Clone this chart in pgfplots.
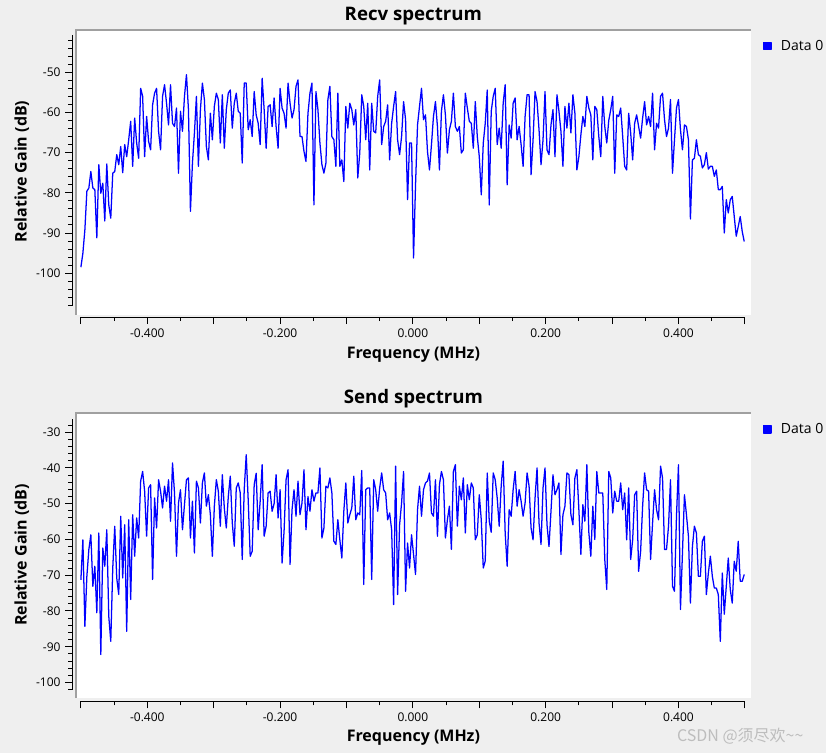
\documentclass[border=0pt]{standalone}
\usepackage{fontspec}
\setmainfont{Open Sans}
\newfontfamily\cjk{Noto Sans CJK SC}
\usepackage{pgfplots}
\usepackage{pgfplotstable}
\pgfplotsset{compat=1.18}
\definecolor{bg}{HTML}{EFEFEF}
\definecolor{framegray}{HTML}{A0A0A0}
\definecolor{qblue}{HTML}{0000FF}
\definecolor{wm}{HTML}{BDBDBD}

\pgfplotstableread{
f r s
-0.500 -98.5 -71.3
-0.497 -95.0 -60.1
-0.494 -89.2 -84.3
-0.491 -79.6 -70.3
-0.488 -78.8 -62.8
-0.485 -74.7 -58.7
-0.482 -78.8 -73.1
-0.479 -79.2 -67.5
-0.476 -91.2 -80.5
-0.473 -73.0 -58.2
-0.470 -80.1 -92.2
-0.467 -77.6 -62.4
-0.464 -87.0 -67.5
-0.461 -72.8 -57.3
-0.458 -83.0 -81.5
-0.455 -86.3 -88.5
-0.452 -75.1 -68.0
-0.449 -74.7 -56.3
-0.446 -70.5 -70.8
-0.443 -73.0 -75.4
-0.440 -68.5 -53.5
-0.437 -75.0 -70.8
-0.434 -68.0 -55.9
-0.431 -71.0 -85.7
-0.428 -66.8 -54.5
-0.425 -62.2 -76.8
-0.422 -73.4 -53.1
-0.419 -61.4 -64.7
-0.416 -67.6 -54.0
-0.413 -71.4 -59.6
-0.410 -54.0 -43.7
-0.407 -56.0 -41.0
-0.404 -71.0 -46.5
-0.401 -61.0 -59.1
-0.398 -67.2 -45.6
-0.395 -69.3 -44.7
-0.392 -58.1 -71.2
-0.389 -55.2 -48.4
-0.386 -54.0 -56.8
-0.383 -64.7 -43.3
-0.380 -69.3 -46.5
-0.377 -56.0 -51.2
-0.374 -53.1 -45.1
-0.371 -57.7 -49.3
-0.368 -63.1 -43.3
-0.365 -53.1 -54.9
-0.362 -62.7 -38.6
-0.359 -63.5 -47.0
-0.356 -58.9 -64.7
-0.353 -75.1 -49.8
-0.350 -59.7 -46.1
-0.347 -64.7 -57.3
-0.344 -56.0 -50.3
-0.341 -50.6 -43.3
-0.338 -59.3 -42.8
-0.335 -84.6 -59.6
-0.332 -72.6 -49.3
-0.329 -65.1 -63.8
-0.326 -56.0 -43.7
-0.323 -73.4 -45.6
-0.320 -59.3 -55.4
-0.317 -52.7 -44.2
-0.314 -56.8 -41.4
-0.311 -68.5 -50.7
-0.308 -71.8 -47.5
-0.305 -60.2 -53.1
-0.302 -66.8 -64.7
-0.299 -58.5 -50.7
-0.296 -55.2 -43.3
-0.293 -56.8 -46.5
-0.290 -67.6 -56.3
-0.287 -55.6 -41.9
-0.284 -68.9 -51.2
-0.281 -59.3 -56.8
-0.278 -55.2 -48.0
-0.275 -54.4 -42.3
-0.272 -63.9 -55.4
-0.269 -57.7 -61.9
-0.266 -55.2 -45.6
-0.263 -59.7 -44.2
-0.260 -60.2 -47.0
-0.257 -72.6 -65.6
-0.254 -52.7 -46.0
-0.251 -52.7 -36.3
-0.248 -64.3 -49.0
-0.245 -61.8 -64.7
-0.242 -66.0 -63.3
-0.239 -54.8 -44.7
-0.236 -60.6 -41.5
-0.233 -62.7 -57.3
-0.230 -68.0 -49.3
-0.227 -51.5 -39.1
-0.224 -59.3 -59.1
-0.221 -68.9 -56.3
-0.218 -58.5 -47.0
-0.215 -58.1 -46.5
-0.212 -63.5 -52.1
-0.209 -56.4 -50.0
-0.206 -63.5 -41.9
-0.203 -68.9 -54.0
-0.200 -54.0 -46.1
-0.197 -58.9 -66.6
-0.194 -60.2 -57.7
-0.191 -63.9 -43.3
-0.188 -52.7 -40.5
-0.185 -57.7 -67.0
-0.182 -61.4 -51.7
-0.179 -59.3 -46.1
-0.176 -53.5 -53.5
-0.173 -51.9 -43.7
-0.170 -66.0 -53.1
-0.167 -66.0 -49.8
-0.164 -69.7 -40.5
-0.161 -72.2 -57.3
-0.158 -60.2 -48.0
-0.155 -55.2 -52.1
-0.152 -52.7 -46.1
-0.149 -83.0 -49.3
-0.146 -54.8 -47.0
-0.143 -59.3 -47.0
-0.140 -67.6 -40.0
-0.137 -73.0 -59.6
-0.134 -75.1 -56.8
-0.131 -72.6 -45.1
-0.128 -56.8 -45.6
-0.125 -53.5 -42.8
-0.122 -66.0 -47.0
-0.119 -66.8 -60.5
-0.116 -73.4 -61.4
-0.113 -55.2 -54.5
-0.110 -73.4 -60.1
-0.107 -71.8 -65.2
-0.104 -77.2 -52.1
-0.101 -58.5 -44.2
-0.098 -63.9 -55.4
-0.095 -57.7 -53.1
-0.092 -59.3 -51.2
-0.089 -63.1 -42.3
-0.086 -59.3 -54.5
-0.083 -76.3 -52.6
-0.080 -70.1 -53.1
-0.077 -55.6 -40.7
-0.074 -58.5 -72.6
-0.071 -66.8 -46.1
-0.068 -57.7 -45.6
-0.065 -74.3 -45.6
-0.062 -57.7 -71.2
-0.059 -64.7 -43.3
-0.056 -65.1 -46.1
-0.053 -56.0 -52.1
-0.050 -51.9 -45.6
-0.047 -68.0 -41.4
-0.044 -63.5 -46.1
-0.041 -62.2 -47.0
-0.038 -58.1 -54.5
-0.035 -71.8 -52.6
-0.032 -62.7 -57.3
-0.029 -58.5 -78.2
-0.026 -54.8 -39.5
-0.023 -66.8 -75.4
-0.020 -70.5 -55.9
-0.017 -66.0 -49.8
-0.014 -57.3 -41.0
-0.011 -61.8 -74.5
-0.008 -81.7 -61.0
-0.005 -67.6 -68.0
-0.002 -67.6 -58.7
0.001 -96.2 -64.2
0.004 -78.0 -69.8
0.007 -63.1 -51.7
0.010 -58.5 -45.1
0.013 -54.0 -53.5
0.016 -61.8 -46.1
0.019 -60.6 -44.2
0.022 -69.7 -43.7
0.025 -74.3 -41.4
0.028 -68.0 -52.6
0.031 -61.0 -53.5
0.034 -57.3 -43.3
0.037 -63.5 -59.1
0.040 -74.3 -44.7
0.043 -59.7 -41.0
0.046 -55.6 -43.3
0.049 -60.6 -59.6
0.052 -70.1 -54.5
0.055 -64.3 -50.7
0.058 -62.2 -62.8
0.061 -55.2 -41.0
0.064 -63.5 -39.1
0.067 -64.7 -56.3
0.070 -63.5 -45.1
0.073 -70.1 -48.9
0.076 -69.3 -42.8
0.079 -55.2 -58.2
0.082 -58.9 -44.7
0.085 -62.2 -48.9
0.088 -62.7 -44.2
0.091 -68.9 -45.6
0.094 -57.3 -60.1
0.097 -66.0 -58.7
0.100 -71.0 -47.5
0.103 -80.5 -54.5
0.106 -67.6 -68.0
0.109 -62.7 -66.0
0.112 -54.4 -41.4
0.115 -83.0 -54.9
0.118 -59.7 -58.0
0.121 -56.0 -41.4
0.124 -54.0 -43.3
0.127 -68.0 -48.4
0.130 -63.9 -56.3
0.133 -68.9 -45.1
0.136 -57.7 -38.1
0.139 -53.1 -58.2
0.142 -78.0 -67.5
0.145 -63.1 -51.7
0.148 -66.4 -53.5
0.151 -57.7 -46.1
0.154 -56.4 -41.0
0.157 -66.8 -50.7
0.160 -63.5 -46.1
0.163 -68.0 -49.3
0.166 -73.4 -53.5
0.169 -61.0 -49.8
0.172 -55.6 -41.4
0.175 -55.6 -45.1
0.178 -75.5 -56.8
0.181 -66.8 -60.1
0.184 -54.8 -48.4
0.187 -57.3 -40.0
0.190 -64.3 -55.4
0.193 -73.0 -61.4
0.196 -66.8 -45.6
0.199 -54.8 -40.0
0.202 -69.3 -55.9
0.205 -70.5 -62.0
0.208 -63.1 -52.1
0.211 -59.3 -41.9
0.214 -71.0 -47.5
0.217 -55.6 -46.1
0.220 -59.7 -44.2
0.223 -64.7 -64.2
0.226 -73.4 -53.1
0.229 -58.5 -50.7
0.232 -63.9 -41.4
0.235 -57.7 -41.9
0.238 -65.1 -53.1
0.241 -55.6 -55.9
0.244 -60.2 -42.8
0.247 -74.3 -40.5
0.250 -71.0 -51.7
0.253 -65.6 -64.2
0.256 -61.0 -50.3
0.259 -63.5 -54.9
0.262 -56.0 -39.1
0.265 -58.9 -58.0
0.268 -60.6 -64.7
0.271 -71.8 -50.7
0.274 -58.5 -60.0
0.277 -59.3 -41.0
0.280 -66.0 -47.0
0.283 -71.0 -47.0
0.286 -56.0 -47.0
0.289 -63.5 -65.6
0.292 -67.6 -74.0
0.295 -62.0 -41.0
0.298 -59.3 -42.8
0.301 -56.0 -52.6
0.304 -75.1 -46.5
0.307 -60.6 -49.3
0.310 -61.0 -49.3
0.313 -58.9 -44.2
0.316 -66.0 -51.7
0.319 -73.4 -47.0
0.322 -74.3 -60.1
0.325 -60.2 -45.6
0.328 -65.1 -65.6
0.331 -71.8 -60.1
0.334 -62.7 -47.5
0.337 -60.6 -46.5
0.340 -63.5 -68.9
0.343 -66.4 -63.3
0.346 -61.4 -50.7
0.349 -57.3 -41.4
0.352 -63.1 -46.1
0.355 -61.0 -46.5
0.358 -63.5 -65.6
0.361 -55.2 -55.4
0.364 -69.3 -46.1
0.367 -62.7 -51.7
0.370 -63.9 -54.5
0.373 -56.0 -39.5
0.376 -55.2 -42.8
0.379 -61.8 -62.8
0.382 -66.0 -62.8
0.385 -63.9 -56.3
0.388 -56.8 -43.3
0.391 -75.1 -73.1
0.394 -66.8 -74.5
0.397 -58.9 -53.5
0.400 -56.8 -39.1
0.403 -64.3 -79.6
0.406 -69.3 -63.8
0.409 -63.1 -47.5
0.412 -63.5 -53.1
0.415 -66.8 -59.1
0.418 -86.5 -77.8
0.421 -71.8 -61.9
0.424 -71.4 -56.3
0.427 -66.8 -58.2
0.430 -70.5 -70.3
0.433 -70.9 -70.3
0.436 -73.8 -60.5
0.439 -73.0 -59.1
0.442 -70.0 -75.4
0.445 -74.1 -69.4
0.448 -73.4 -64.7
0.451 -73.4 -70.3
0.454 -75.9 -73.6
0.457 -74.3 -73.6
0.460 -79.2 -75.4
0.463 -79.2 -88.5
0.466 -78.4 -69.4
0.469 -90.0 -80.9
0.472 -81.7 -73.1
0.475 -85.0 -65.2
0.478 -81.7 -74.0
0.481 -80.9 -77.8
0.484 -85.9 -66.1
0.487 -90.8 -68.9
0.490 -88.4 -60.5
0.493 -85.9 -71.7
0.496 -89.6 -71.7
0.499 -92.1 -69.8
}\spec

\pgfplotsset{
  specaxis/.style={
    scale only axis, width=506.25pt, height=213.75pt,
    xmin=-0.5074, xmax=0.5089,
    axis background/.style={fill=white},
    axis x line*=bottom, axis y line*=left,
    x axis line style={draw=none}, y axis line style={draw=none},
    tick align=outside,
    major tick length=5.25pt, minor tick length=3pt,
    every tick/.style={black, line width=0.75pt},
    xtick={-0.5,-0.4,-0.3,-0.2,-0.1,0,0.1,0.2,0.3,0.4,0.5},
    xticklabels={{},{-0.400},{},{-0.200},{},{0.000},{},{0.200},{},{0.400},{}},
    minor xtick={-0.45,-0.35,-0.25,-0.15,-0.05,0.05,0.15,0.25,0.35,0.45},
    ticklabel style={font=\fontsize{9}{10}\selectfont},
    legend style={at={(1.018,0.975)}, anchor=north west, draw=none, fill=none,
      inner sep=0pt, font=\fontsize{10.5}{12}\selectfont,
      /tikz/every odd column/.append style={column sep=5pt}},
    legend image code/.code={\fill[qblue] (0pt,-2.7pt) rectangle (5.4pt,2.7pt);},
    legend cell align=left,
  },
}

\begin{document}
\begin{tikzpicture}[x=0.75pt,y=0.75pt]
\fill[bg] (0,0) rectangle (826,753);

% ---------------- Recv spectrum ----------------
\begin{axis}[specaxis, at={(57pt,328.5pt)}, anchor=south west,
  ymin=-110.37, ymax=-39.48,
  axis x line shift=1.73pt, axis y line shift=2.78pt,
  ytick={-100,-90,-80,-70,-60,-50},
  yticklabels={-100,-90,-80,-70,-60,-50},
  minor ytick={-108,-106,...,-42},
]
\addplot[qblue, line width=0.95pt, line join=round] table[x=f, y=r] {\spec};
\addlegendentry{Data 0}
\end{axis}
\draw[framegray, line width=1.5pt] (76.3,438) -- (76.3,722.7) -- (751,722.7);
\draw[black, line width=0.75pt] (80.9,435.7) -- (745.1,435.7);
\draw[black, line width=0.75pt] (72.3,718) -- (72.3,447);
\node[anchor=base, font=\bfseries\fontsize{14}{16}\selectfont] at (413.5,732.3) {Recv spectrum};
\node[anchor=base, font=\bfseries\fontsize{12}{14}\selectfont] at (413.5,394.7) {Frequency (MHz)};
\node[anchor=base, rotate=90, font=\bfseries\fontsize{12}{14}\selectfont] at (26.7,581.5) {Relative Gain (dB)};

% ---------------- Send spectrum ----------------
\begin{axis}[specaxis, at={(57pt,41.025pt)}, anchor=south west,
  ymin=-104.36, ymax=-24.69,
  axis x line shift=2.55pt, axis y line shift=2.78pt,
  ytick={-100,-90,-80,-70,-60,-50,-40,-30},
  yticklabels={-100,-90,-80,-70,-60,-50,-40,-30},
  minor ytick={-102,-100,...,-28},
]
\addplot[qblue, line width=0.95pt, line join=round] table[x=f, y=s] {\spec};
\addlegendentry{Data 0}
\end{axis}
\draw[framegray, line width=1.5pt] (76.3,54.7) -- (76.3,339.4) -- (751,339.4);
\draw[black, line width=0.75pt] (80.9,51.3) -- (745.1,51.3);
\draw[black, line width=0.75pt] (72.3,333.7) -- (72.3,63);
\node[anchor=base, font=\bfseries\fontsize{14}{16}\selectfont] at (413.5,349) {Send spectrum};
\node[anchor=base, font=\bfseries\fontsize{12}{14}\selectfont] at (413.5,11.3) {Frequency (MHz)};
\node[anchor=base, rotate=90, font=\bfseries\fontsize{12}{14}\selectfont] at (26.7,198) {Relative Gain (dB)};

\node[anchor=base west, text=wm, font=\cjk\fontsize{12}{14}\selectfont, inner sep=0pt] at (677,11) {CSDN @须尽欢\textasciitilde\textasciitilde};
\end{tikzpicture}
\end{document}
